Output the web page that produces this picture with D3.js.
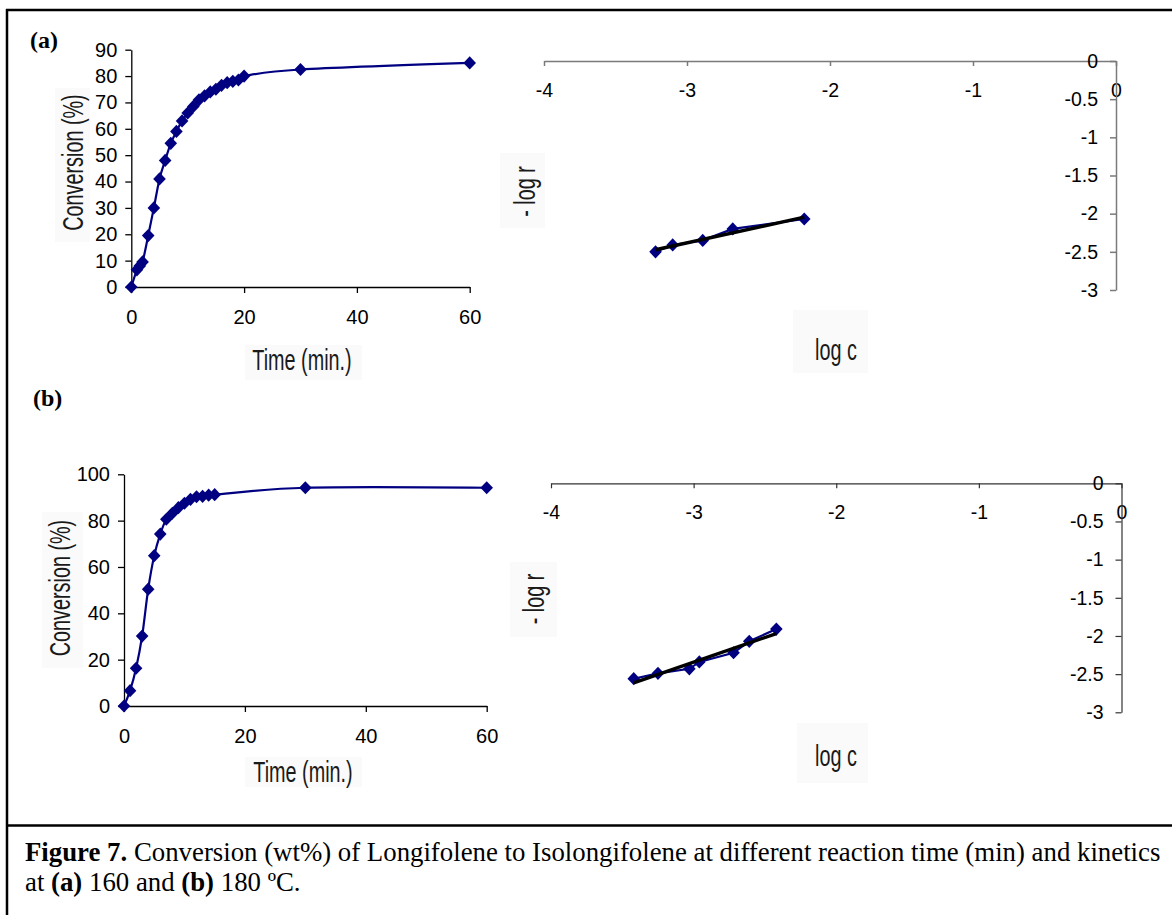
<!DOCTYPE html>
<html>
<head>
<meta charset="utf-8">
<script src="https://cdn.jsdelivr.net/npm/d3@7"></script>
<style>
  html, body { margin: 0; padding: 0; background: #fff; }
  svg { display: block; }
</style>
</head>
<body>
<svg id="fig" width="1172" height="915"></svg>
<script>
// Conversion of longifolene vs. reaction time, 160 °C (a) and 180 °C (b)
const timeA = [0, 1, 1.5, 2, 3, 4, 5, 6, 7, 8, 9, 10, 11, 12, 13, 14, 15, 16, 17, 18, 19, 20, 30, 60];
const convA = [0, 6.5, 8, 9.5, 19.5, 30, 41, 48, 54.5, 59, 63, 66, 68.5, 71, 72.5, 74, 75, 76.5, 77.5, 78, 78.5, 80, 82.5, 85];
const timeB = [0, 1, 2, 3, 4, 5, 6, 7, 8, 9, 10, 11, 12, 13, 14, 15, 30, 60];
const convB = [0, 6.6, 16.3, 30.2, 50.4, 64.9, 74.2, 80.6, 83.2, 85.6, 87.5, 89.2, 90.3, 90.5, 91, 91.2, 94.2, 94.2];

// Kinetics: log c against -log r
const logcA = [-3.22, -3.10, -2.89, -2.68, -2.18];
const logrA = [-2.50, -2.41, -2.35, -2.20, -2.07];
const logcB = [-3.42, -3.25, -3.03, -2.96, -2.72, -2.61, -2.42];
const logrB = [-2.56, -2.49, -2.43, -2.34, -2.22, -2.07, -1.91];

// Tick labels
const timeTicks = [0, 20, 40, 60];
const convTicksA = [0, 10, 20, 30, 40, 50, 60, 70, 80, 90];
const convTicksB = [0, 20, 40, 60, 80, 100];
const logcTicks = [-4, -3, -2, -1, 0];
const logrTicks = [0, -0.5, -1, -1.5, -2, -2.5, -3];

const NAVY = "#000080";
const TICK_FONT = '"Liberation Sans", Arial, sans-serif';
const svg = d3.select("#fig");

// figure frame and caption separator
svg.append("line").attr("x1", 6).attr("x2", 1172).attr("y1", 10).attr("y2", 10)
  .attr("stroke", "#000").attr("stroke-width", 2.5);
svg.append("line").attr("x1", 7).attr("x2", 7).attr("y1", 9).attr("y2", 915)
  .attr("stroke", "#000").attr("stroke-width", 2.5);
svg.append("line").attr("x1", 6).attr("x2", 1172).attr("y1", 825.5).attr("y2", 825.5)
  .attr("stroke", "#000").attr("stroke-width", 2.5);

const diamond = "M0,-6.6L6.3,0L0,6.6L-6.3,0Z";

function styleAxis(g, color, width, fs) {
  g.attr("font-size", null).attr("font-family", null);
  g.selectAll("path, line").attr("stroke", color).attr("stroke-width", width);
  g.selectAll("text").attr("fill", "#000")
    .style("font-family", TICK_FONT).style("font-size", fs + "px");
}

function axisTitle(cx, cy, text, rotated, box) {
  svg.append("rect").attr("x", box[0]).attr("y", box[1])
    .attr("width", box[2] - box[0]).attr("height", box[3] - box[1])
    .attr("fill", "#fafafa");
  const t = svg.append("text")
    .attr("text-anchor", "middle")
    .attr("fill", "#1a1a1a")
    .style("font-family", TICK_FONT)
    .style("font-size", "30px")
    .text(text);
  if (rotated) {
    t.attr("transform", `translate(${cx},${cy}) rotate(-90) scale(0.66,1)`).attr("dy", "0.28em");
  } else {
    t.attr("transform", `translate(${cx},${cy}) scale(0.66,1)`);
  }
}

function panelLabel(x, y, text) {
  svg.append("text").attr("x", x).attr("y", y)
    .style("font-family", '"Liberation Serif", "Times New Roman", serif')
    .style("font-size", "24px").style("font-weight", "bold")
    .text(text);
}

function drawConversion(o) {
  const x = d3.scaleLinear().domain([0, 60]).range(o.xr);
  const y = d3.scaleLinear().domain(o.yd).range(o.yr);
  const g = svg.append("g");

  const ax = g.append("g").attr("transform", `translate(0,${o.yr[0]})`)
    .call(d3.axisBottom(x).tickValues(timeTicks).tickFormat(d => String(d))
      .tickSize(6).tickPadding(17).tickSizeOuter(0));
  styleAxis(ax, "#000", 1.3, 20);

  const ay = g.append("g").attr("transform", `translate(${o.xr[0]},0)`)
    .call(d3.axisLeft(y).tickValues(o.yticks).tickFormat(d => String(d))
      .tickSize(6).tickPadding(8).tickSizeOuter(0));
  styleAxis(ay, "#000", 1.3, 20);

  const pts = o.t.map((t, i) => [t, o.v[i]]);
  g.append("path").datum(pts)
    .attr("fill", "none").attr("stroke", NAVY).attr("stroke-width", 2.2)
    .attr("d", d3.line().x(d => x(d[0])).y(d => y(d[1])).curve(d3.curveCardinal.tension(0)));
  g.selectAll("path.pt").data(pts).join("path").attr("class", "pt")
    .attr("d", diamond).attr("fill", NAVY)
    .attr("transform", d => `translate(${x(d[0])},${y(d[1])})`);
}

function drawKinetics(o) {
  const x = d3.scaleLinear().domain([-4, 0]).range(o.xr);
  const y = d3.scaleLinear().domain([-3, 0]).range(o.yr);
  const g = svg.append("g");

  const ax = g.append("g").attr("transform", `translate(0,${y(0)})`)
    .call(d3.axisBottom(x).tickValues(logcTicks).tickFormat(d => String(d))
      .tickSize(5).tickPadding(17).tickSizeOuter(0));
  styleAxis(ax, o.axisColor, o.axisWidth, 19.5);

  const ay = g.append("g").attr("transform", `translate(${x(0)},0)`)
    .call(d3.axisLeft(y).tickValues(logrTicks).tickFormat(d => String(d))
      .tickSize(6).tickPadding(12).tickSizeOuter(0));
  styleAxis(ay, o.axisColor, o.axisWidth, 19.5);

  const pts = o.c.map((c, i) => [c, o.r[i]]);
  g.append("path").datum(pts)
    .attr("fill", "none").attr("stroke", NAVY).attr("stroke-width", 2.2)
    .attr("d", d3.line().x(d => x(d[0])).y(d => y(d[1])));
  g.selectAll("path.pt").data(pts).join("path").attr("class", "pt")
    .attr("d", diamond).attr("fill", NAVY)
    .attr("transform", d => `translate(${x(d[0])},${y(d[1])})`);

  // least-squares trend line through the kinetic points
  const mx = d3.mean(o.c), my = d3.mean(o.r);
  const sxy = d3.sum(o.c, (c, i) => (c - mx) * (o.r[i] - my));
  const sxx = d3.sum(o.c, c => (c - mx) * (c - mx));
  const slope = sxy / sxx, icpt = my - slope * mx;
  const [c0, c1] = d3.extent(o.c);
  g.append("line")
    .attr("x1", x(c0)).attr("y1", y(slope * c0 + icpt))
    .attr("x2", x(c1)).attr("y2", y(slope * c1 + icpt))
    .attr("stroke", "#000").attr("stroke-width", 3.4);
}

// ---- panel (a) ----
panelLabel(30, 48, "(a)");
axisTitle(75, 162.5, "Conversion (%)", true, [55, 88, 90, 242]);
axisTitle(302, 370, "Time (min.)", false, [245, 345, 362, 380]);
drawConversion({ t: timeA, v: convA, xr: [131.3, 469.7], yd: [0, 90], yr: [287, 49.7], yticks: convTicksA });

axisTitle(527, 191.5, "- log r", true, [500, 153, 545, 228]);
axisTitle(836, 360, "log c", false, [793, 310, 868, 373]);
drawKinetics({ c: logcA, r: logrA, xr: [544, 1116], yr: [290, 61], axisColor: "#7a7a7a", axisWidth: 1.5 });

// ---- panel (b) ----
panelLabel(33, 406, "(b)");
axisTitle(62, 588, "Conversion (%)", true, [42, 512, 83, 668]);
axisTitle(303, 781.5, "Time (min.)", false, [245, 757, 362, 787]);
drawConversion({ t: timeB, v: convB, xr: [124, 486.7], yd: [0, 100], yr: [706, 474.3], yticks: convTicksB });

axisTitle(536, 599, "- log r", true, [510, 562, 557, 637]);
axisTitle(836, 766, "log c", false, [797, 723, 868, 783]);
drawKinetics({ c: logcB, r: logrB, xr: [551, 1121.5], yr: [712.3, 483.3], axisColor: "#333", axisWidth: 1.2 });

// ---- caption ----
const cap = svg.append("g")
  .style("font-family", '"Liberation Serif", "Times New Roman", serif')
  .style("font-size", "26.8px").attr("fill", "#000");
const l1 = cap.append("text").attr("x", 25).attr("y", 861);
l1.append("tspan").style("font-weight", "bold").text("Figure 7.");
l1.append("tspan").text(" Conversion (wt%) of Longifolene to Isolongifolene at different reaction time (min) and kinetics");
const l2 = cap.append("text").attr("x", 25).attr("y", 891);
l2.append("tspan").text("at ");
l2.append("tspan").style("font-weight", "bold").text("(a)");
l2.append("tspan").text(" 160 and ");
l2.append("tspan").style("font-weight", "bold").text("(b)");
l2.append("tspan").text(" 180 ºC.");
</script>
</body>
</html>
